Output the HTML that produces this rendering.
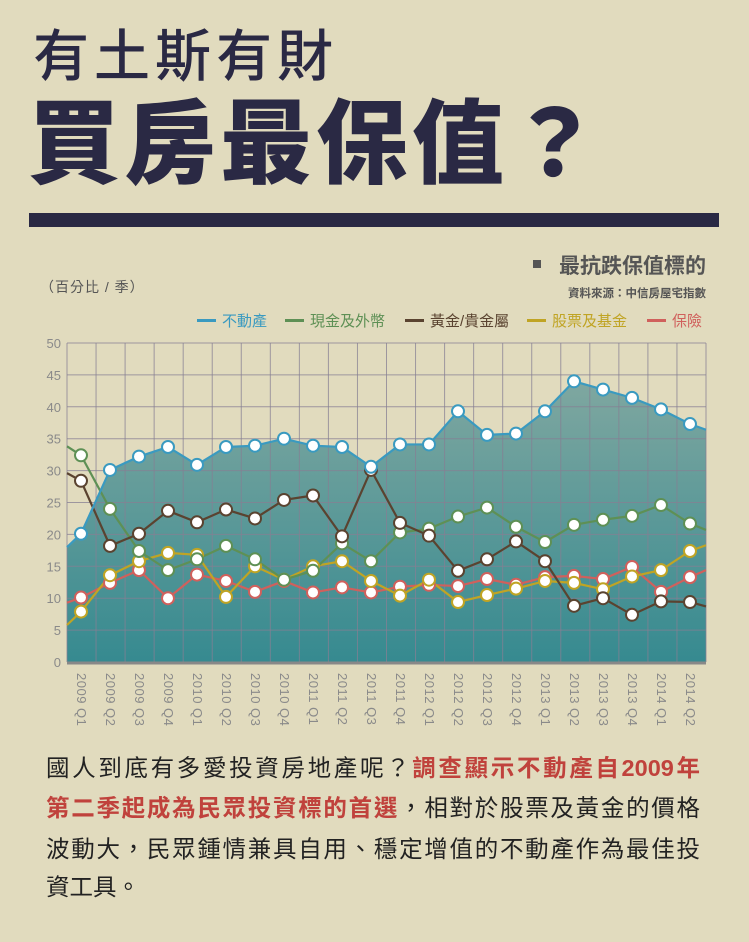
<!DOCTYPE html>
<html><head><meta charset="utf-8">
<style>
html,body{margin:0;padding:0;}
body{width:749px;height:942px;background:#e1dbbe;position:relative;overflow:hidden;font-family:"Liberation Sans","Noto Sans CJK TC",sans-serif;}
.t1{position:absolute;left:33px;top:22px;font-size:56px;font-weight:500;color:#2a2944;letter-spacing:5px;line-height:70px;white-space:nowrap;}
.t2{position:absolute;left:28px;top:90px;font-size:92px;font-weight:900;color:#2a2944;letter-spacing:4px;line-height:110px;white-space:nowrap;}
.bar{position:absolute;left:29px;top:213px;width:690px;height:14px;background:#2a2944;}
.p{position:absolute;left:46px;width:654px;font-size:23.5px;color:#222;line-height:40px;height:40px;text-align:justify;text-align-last:justify;white-space:nowrap;}
.r{color:#c0423c;font-weight:bold;}
svg{position:absolute;left:0;top:0;}
</style></head><body>
<div class="t1">有土斯有財</div>
<div class="t2">買房最保值？</div>
<div class="bar"></div>
<svg id="c" width="749" height="740" xmlns="http://www.w3.org/2000/svg"></svg>
<div class="p" style="top:748px">國人到底有多愛投資房地產呢？<span class="r">調查顯示不動產自2009年</span></div>
<div class="p" style="top:788px"><span class="r">第二季起成為民眾投資標的首選</span>，相對於股票及黃金的價格</div>
<div class="p" style="top:829px">波動大，民眾鍾情兼具自用、穩定增值的不動產作為最佳投</div>
<div class="p" style="top:867px;text-align-last:left">資工具。</div>
<script>
var s='';
var X0=67,X1=706,Y0=662,K=6.38,DX=29;
function y(v){return Y0-v*K;}
function x(i){return 81+DX*i;}
var blue=[20.1,30.1,32.2,33.7,30.9,33.7,33.9,35,33.9,33.7,30.6,34.1,34.1,39.3,35.6,35.8,39.3,44,42.7,41.4,39.6,37.3];
var green=[32.4,24,17.4,14.4,16.1,18.2,16.1,12.9,14.3,18.6,15.8,20.3,20.9,22.8,24.2,21.2,18.8,21.5,22.3,22.9,24.6,21.7];
var brown=[28.4,18.2,20.1,23.7,21.9,23.9,22.5,25.4,26.1,19.7,30.1,21.8,19.8,14.3,16.1,18.9,15.8,8.8,10,7.4,9.5,9.4];
var yel=[7.9,13.6,15.8,17.1,16.8,10.2,15.0,12.9,15.0,15.8,12.7,10.4,12.9,9.4,10.5,11.5,12.7,12.4,11.4,13.4,14.4,17.4];
var red=[10.1,12.4,14.4,10.0,13.7,12.7,11.0,12.7,10.9,11.7,10.9,11.8,12.1,11.9,13.0,12.1,13.3,13.5,13.0,14.9,11.0,13.3];
s+='<defs><linearGradient id="g" x1="0" y1="0" x2="0" y2="1"><stop offset="0" stop-color="#7fa7a0"/><stop offset="1" stop-color="#368a90"/></linearGradient></defs>';
var pa='M'+X0+','+y(18);
blue.forEach(function(v,i){pa+=' L'+x(i)+','+y(v);});
pa+=' L'+X1+','+y(36.4)+' L'+X1+','+Y0+' L'+X0+','+Y0+'Z';
s+='<path d="'+pa+'" fill="url(#g)"/>';
for(var i=0;i<=22;i++){var gx=X0+i*(X1-X0)/22;s+='<line x1="'+gx+'" y1="343" x2="'+gx+'" y2="'+Y0+'" stroke="#857f93" stroke-opacity="0.75" stroke-width="1"/>';}
for(var v=0;v<=50;v+=5){s+='<line x1="'+X0+'" y1="'+y(v)+'" x2="'+X1+'" y2="'+y(v)+'" stroke="#857f93" stroke-opacity="0.75" stroke-width="1"/>';
s+='<text x="61" y="'+(y(v)+5)+'" font-size="13" fill="#8a8a8a" text-anchor="end">'+v+'</text>';}
s+='<line x1="'+X0+'" y1="'+(Y0+1)+'" x2="'+X1+'" y2="'+(Y0+1)+'" stroke="#888" stroke-width="3"/>';
function ser(d,first,last,c){var p='M'+X0+','+y(first);d.forEach(function(v,i){p+=' L'+x(i)+','+y(v);});p+=' L'+X1+','+y(last);
s+='<path d="'+p+'" fill="none" stroke="'+c+'" stroke-width="2.2"/>';}
function mk(d,c){d.forEach(function(v,i){s+='<circle cx="'+x(i)+'" cy="'+y(v)+'" r="6" fill="#fff" stroke="'+c+'" stroke-width="2"/>';});}
var S=[[red,9.3,14.4,'#d0605c'],[yel,5.8,18.3,'#c0a424'],[green,33.8,20.7,'#5e9055'],[brown,29.6,8.7,'#5a4330'],[blue,18,36.4,'#3a9ac0']];
S.forEach(function(a){ser(a[0],a[1],a[2],a[3]);});
S.forEach(function(a){mk(a[0],a[3]);});
var L=[];for(var yr=2009;yr<=2014;yr++)for(var q=1;q<=4;q++){if(yr==2014&&q>2)break;L.push(yr+' Q'+q);}
L.forEach(function(t,i){s+='<text transform="translate('+(x(i)-4)+',673) rotate(90)" font-size="13" fill="#8a8a8a" letter-spacing="0.5">'+t+'</text>';});
s+='<text x="40" y="292" font-size="14" fill="#555" letter-spacing="1">（百分比 / 季）</text>';
s+='<rect x="533" y="260" width="8" height="8" fill="#555"/>';
s+='<text x="706" y="273" font-size="21" font-weight="bold" fill="#555" text-anchor="end">最抗跌保值標的</text>';
s+='<text x="706" y="297" font-size="11.5" font-weight="bold" fill="#555" text-anchor="end">資料來源：中信房屋宅指數</text>';
var lg=[['不動產','#3a9ac0',197],['現金及外幣','#5e9055',285],['黃金/貴金屬','#5a4330',405],['股票及基金','#c0a424',527],['保險','#d0605c',647]];
lg.forEach(function(a){s+='<rect x="'+a[2]+'" y="319" width="19" height="3" fill="'+a[1]+'"/><text x="'+(a[2]+25)+'" y="326" font-size="15" fill="'+a[1]+'">'+a[0]+'</text>';});
document.getElementById('c').innerHTML=s;
</script>
</body></html>
